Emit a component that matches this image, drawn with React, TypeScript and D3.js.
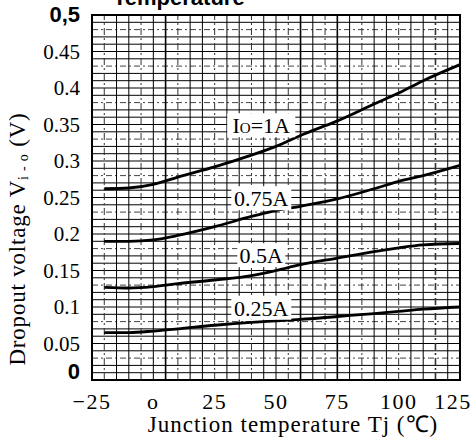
import React from "react";
import * as d3 from "d3";

// temperature (°C) at which curves were read
const temps = [-20, -10, 0, 10, 25, 40, 50, 60, 75, 90, 100, 110, 125];

// dropout voltage (V) for each output current
const io1A = [0.262, 0.263, 0.268, 0.278, 0.292, 0.308, 0.32, 0.335, 0.355, 0.378, 0.393, 0.41, 0.432];
const io075A = [0.19, 0.19, 0.192, 0.198, 0.21, 0.224, 0.232, 0.238, 0.248, 0.262, 0.272, 0.28, 0.294];
const io05A = [0.127, 0.126, 0.128, 0.132, 0.137, 0.143, 0.15, 0.158, 0.167, 0.176, 0.181, 0.185, 0.187];
const io025A = [0.065, 0.065, 0.067, 0.07, 0.075, 0.079, 0.081, 0.083, 0.087, 0.091, 0.094, 0.097, 0.1];

const seriesNames = ["1A", "0.75A", "0.5A", "0.25A"];

const xTicks = [-25, 0, 25, 50, 75, 100, 125];
const xTickLabels = ["\u221225", "o", "25", "50", "75", "100", "125"];
const yTicks = [0, 0.05, 0.1, 0.15, 0.2, 0.25, 0.3, 0.35, 0.4, 0.45, 0.5];
const yTickLabels = ["0", "0.05", "0.1", "0.15", "0.2", "0.25", "0.3", "0.35", "0.4", "0.45", "0,5"];

const W = 472;
const H = 444;
const margin = { top: 15, right: 12, bottom: 64, left: 92 };

export default function App() {
  const x = d3.scaleLinear().domain([-25, 125]).range([margin.left, W - margin.right]);
  const y = d3.scaleLinear().domain([0, 0.5]).range([H - margin.bottom, margin.top]);

  const line = d3
    .line<[number, number]>()
    .x(d => x(d[0]))
    .y(d => y(d[1]))
    .curve(d3.curveMonotoneX);

  const series = [io1A, io075A, io05A, io025A];

  // grid: every 5 °C and every 0.01 V
  const vGrid = d3.range(-25, 125.01, 5);
  const hGrid = d3.range(0, 50.01, 1).map(i => i / 100);

  const serif = "'Liberation Serif', 'Times New Roman', serif";
  const boldNarrow = "'Liberation Sans Narrow', 'Liberation Sans', Arial, sans-serif";

  // label anchor in data coordinates (temp, volts)
  const labelAt: [number, number][] = [
    [44, 0.349],
    [44, 0.249],
    [44, 0.171],
    [44, 0.099],
  ];

  return (
    <div style={{ position: "absolute", left: 0, top: 0 }}>
      <svg width={W} height={H} style={{ display: "block", background: "#fff" }}>
        {/* cut off title */}
        <text x={113} y={5} fontFamily="'Liberation Sans', Arial, sans-serif" fontWeight="bold" fontSize={22}>
          Temperature
        </text>

        <g>
          {hGrid.map((v, i) => (
            <line
              key={"h" + i}
              x1={x(-25)}
              x2={x(125)}
              y1={y(v)}
              y2={y(v)}
              stroke={i % 5 === 3 ? "#444" : "#000"}
              strokeWidth={1}
              strokeDasharray={i % 5 === 3 ? "6 3 2 3" : undefined}
            />
          ))}
          {vGrid.map((t, i) => (
            <line
              key={"v" + i}
              x1={x(t)}
              x2={x(t)}
              y1={y(0)}
              y2={y(0.5)}
              stroke={i % 3 === 1 ? "#333" : "#000"}
              strokeWidth={i === 6 || i === 17 || i === 20 || i === 28 ? 1.6 : 1}
              strokeDasharray={i % 3 === 1 ? "7 3 2 3" : undefined}
            />
          ))}
        </g>

        <rect
          x={x(-25)}
          y={y(0.5)}
          width={x(125) - x(-25)}
          height={y(0) - y(0.5)}
          fill="none"
          stroke="#000"
          strokeWidth={2}
        />

        {series.map((vals, i) => (
          <path
            key={"s" + i}
            d={line(temps.map((t, j) => [t, vals[j]] as [number, number])) || ""}
            fill="none"
            stroke="#000"
            strokeWidth={2.8}
          />
        ))}

        {seriesNames.map((name, i) => {
          const cx = x(labelAt[i][0]);
          const cy = y(labelAt[i][1]);
          const wBox = i === 0 ? 68 : i === 2 ? 48 : 60;
          return (
            <g key={"l" + i}>
              <rect x={cx - wBox / 2} y={cy - 12} width={wBox} height={24} fill="#fff" />
              <text
                x={cx}
                y={cy + 8}
                textAnchor="middle"
                fontFamily={serif}
                fontSize={22}
              >
                {i === 0 ? (
                  <>
                    I<tspan fontSize={15}>O</tspan>=1A
                  </>
                ) : (
                  name
                )}
              </text>
            </g>
          );
        })}

        {yTicks.map((v, i) => {
          const bold = i === 0 || i === yTicks.length - 1;
          return (
            <text
              key={"yt" + i}
              x={80}
              y={y(v) + (i === 0 ? -1 : 7)}
              textAnchor="end"
              fontFamily={bold ? boldNarrow : serif}
              fontWeight={bold ? "bold" : "normal"}
              fontSize={bold ? 22 : 21}
            >
              {yTickLabels[i]}
            </text>
          );
        })}

        {xTicks.map((t, i) => (
          <text
            key={"xt" + i}
            x={Math.min(x(t), W - 19)}
            y={409}
            textAnchor="middle"
            fontFamily={serif}
            fontSize={22}
            letterSpacing={1.5}
          >
            {xTickLabels[i]}
          </text>
        ))}

        <text x={293} y={432} textAnchor="middle" fontFamily={serif} fontSize={23} letterSpacing={1}>
          Junction temperature Tj (℃)
        </text>

        <text
          transform="translate(25,239) rotate(-90)"
          textAnchor="middle"
          fontFamily={serif}
          fontSize={23}
          letterSpacing={0.8}
        >
          Dropout voltage V<tspan fontSize={14} dy={3}>i - o</tspan>
          <tspan dy={-3}> (V)</tspan>
        </text>
      </svg>
    </div>
  );
}
